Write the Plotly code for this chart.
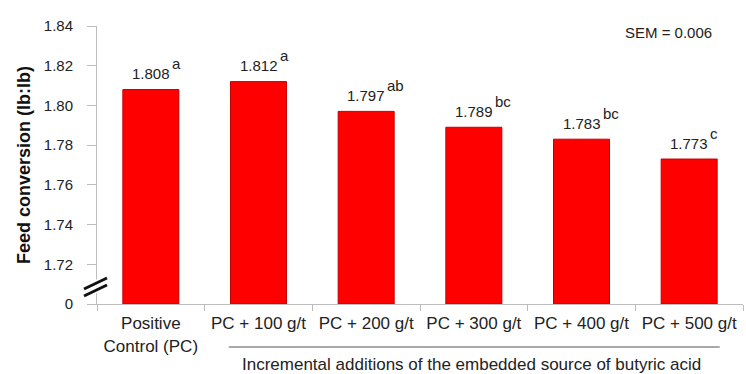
import plotly.graph_objects as go

# Feed conversion by treatment
categories = ["Positive<br>Control (PC)", "PC + 100 g/t", "PC + 200 g/t",
              "PC + 300 g/t", "PC + 400 g/t", "PC + 500 g/t"]
feed_conversion = [1.808, 1.812, 1.797, 1.789, 1.783, 1.773]
letters = ["a", "a", "ab", "bc", "bc", "c"]

y_base = 1.70  # axis break: the bottom of the scale is labelled 0
y_tickvals = [1.70, 1.72, 1.74, 1.76, 1.78, 1.80, 1.82, 1.84]
y_ticktext = ["0", "1.72", "1.74", "1.76", "1.78", "1.80", "1.82", "1.84"]

FONT = "Liberation Sans, Arial, sans-serif"
AXIS_GREY = "#bdbdbd"

fig = go.Figure()
fig.add_trace(go.Bar(
    x=categories,
    y=[v - y_base for v in feed_conversion],
    base=y_base,
    marker=dict(color="#ff0000", line=dict(color="#c40000", width=1)),
    hoverinfo="skip",
))

# value labels with significance letters
annotations = []
for cat, val, let in zip(categories, feed_conversion, letters):
    annotations.append(dict(
        x=cat, y=val, xref="x", yref="y", text=f"{val:.3f}",
        showarrow=False, xanchor="center", yanchor="middle", yshift=16,
        font=dict(family=FONT, size=15, color="#222"),
    ))
    annotations.append(dict(
        x=cat, y=val, xref="x", yref="y", text=let,
        showarrow=False, xanchor="left", yanchor="middle", yshift=26, xshift=19,
        font=dict(family=FONT, size=15, color="#222"),
    ))

annotations.append(dict(
    x=0.955, y=1.0, xref="paper", yref="paper", text="SEM = 0.006",
    showarrow=False, xanchor="right", yanchor="middle", yshift=-6,
    font=dict(family=FONT, size=15, color="#222"),
))
annotations.append(dict(
    x=0.58, y=0, xref="paper", yref="paper",
    text="Incremental additions of the embedded source of butyric acid",
    showarrow=False, xanchor="center", yanchor="middle", yshift=-60,
    font=dict(family=FONT, size=17, color="#222"),
))

shapes = [
    # bracket line under the dosed treatments
    dict(type="line", xref="paper", yref="paper", x0=0.204, x1=0.964,
         ysizemode="pixel", yanchor=0, y0=-43, y1=-43,
         line=dict(color="#555", width=1.2)),
]

# axis break marker "//"
for off in (0, 7):
    shapes.append(dict(
        type="line", xref="paper", yref="paper",
        xsizemode="pixel", xanchor=0, ysizemode="pixel", yanchor=0,
        x0=-14, x1=11, y0=14 - off, y1=27 - off,
        line=dict(color="#ffffff", width=6),
    ))
for off in (0, 7):
    shapes.append(dict(
        type="line", xref="paper", yref="paper",
        xsizemode="pixel", xanchor=0, ysizemode="pixel", yanchor=0,
        x0=-13, x1=10, y0=15 - off, y1=26 - off,
        line=dict(color="#111111", width=3),
    ))

fig.update_layout(
    width=746, height=374,
    margin=dict(l=97, r=3, t=26, b=70),
    paper_bgcolor="white", plot_bgcolor="white",
    bargap=0.48,
    showlegend=False,
    annotations=annotations,
    shapes=shapes,
    font=dict(family=FONT, color="#222"),
    xaxis=dict(
        showline=True, linecolor=AXIS_GREY, linewidth=1,
        ticks="outside", tickson="boundaries", ticklen=6, tickcolor=AXIS_GREY,
        ticklabelstandoff=4,
        tickfont=dict(family=FONT, size=17, color="#222"),
        showgrid=False,
    ),
    yaxis=dict(
        range=[y_base, 1.84],
        tickvals=y_tickvals, ticktext=y_ticktext,
        showline=True, linecolor=AXIS_GREY, linewidth=1,
        ticks="outside", ticklen=9, tickcolor=AXIS_GREY,
        ticklabelstandoff=11,
        tickfont=dict(family=FONT, size=15, color="#222"),
        showgrid=False, zeroline=False,
        title=dict(text="<b>Feed conversion (lb:lb)</b>", standoff=8,
                   font=dict(family=FONT, size=18, color="#111")),
    ),
)

fig.write_html("out.html")
